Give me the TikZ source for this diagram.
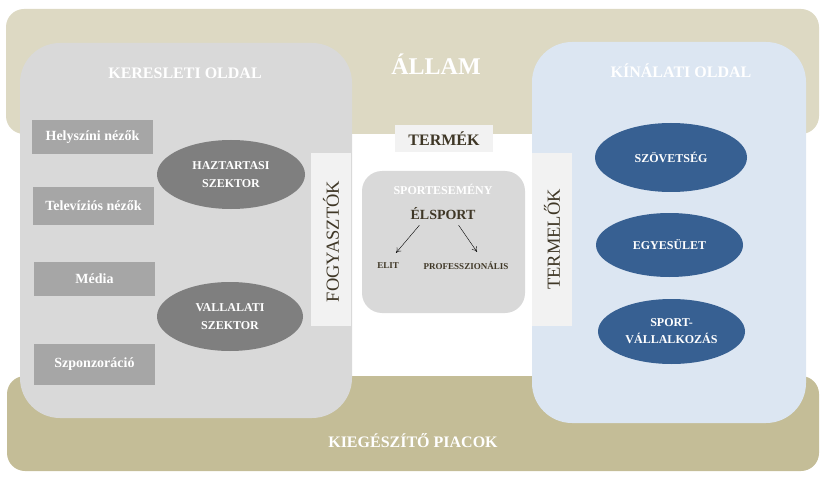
\documentclass[tikz,border=0pt]{standalone}
\usepackage{fontspec}
\setmainfont{Liberation Serif}
\usetikzlibrary{shapes.geometric,arrows.meta}
\definecolor{allamcol}{HTML}{DDD9C3}
\definecolor{piaccol}{HTML}{C4BD97}
\definecolor{keresletcol}{HTML}{D9D9D9}
\definecolor{kinalatcol}{HTML}{DCE6F2}
\definecolor{boxcol}{HTML}{A6A6A6}
\definecolor{sectorcol}{HTML}{7F7F7F}
\definecolor{orgcol}{HTML}{376092}
\definecolor{lightcol}{HTML}{F2F2F2}
\definecolor{darktxt}{HTML}{3F3726}
\tikzset{
  head/.style={text=white,font=\bfseries\fontsize{16}{19}\selectfont},
  graybox/.style={fill=boxcol,text=white,inner sep=0pt,minimum width=121pt,font=\bfseries\fontsize{14}{16}\selectfont},
  sector/.style={ellipse,fill=sectorcol,text=white,inner sep=0pt,align=center,font=\bfseries\fontsize{12}{18}\selectfont},
  org/.style={ellipse,fill=orgcol,text=white,inner sep=0pt,align=center,font=\bfseries\fontsize{12}{17}\selectfont},
  sidebox/.style={fill=lightcol,inner sep=0pt,minimum width=40pt,minimum height=173pt},
  sidetext/.style={text=darktxt,rotate=90,font=\fontsize{18.5}{20}\selectfont},
  small/.style={text=darktxt,inner sep=1pt,font=\bfseries\fontsize{9}{10}\selectfont}
}
\begin{document}
\begin{tikzpicture}[x=1pt,y=-1pt]
\useasboundingbox (0,0) rectangle (832,481);
\fill[allamcol,rounded corners=18pt] (6,9) rectangle (819,134);
\fill[piaccol,rounded corners=18pt] (7,376) rectangle (819,471);
\fill[keresletcol,rounded corners=40pt] (20,43) rectangle (352,418);
\fill[kinalatcol,rounded corners=40pt] (532,42) rectangle (806,423);
\fill[keresletcol,rounded corners=20pt] (362,171) rectangle (525,313);

\node[text=white,font=\bfseries\fontsize{24}{28}\selectfont] (allam) at (436,64) {ÁLLAM};
\node[head] (kereslet) at (185,73) {KERESLETI OLDAL};
\node[head] (kinalat) at (681,71) {KÍNÁLATI OLDAL};
\node[head] (piacok) at (413,441) {KIEGÉSZÍTŐ PIACOK};

\node[graybox,minimum height=34pt] (helyszini) at (92.5,137) {Helyszíni nézők};
\node[graybox,minimum height=37pt] (tv) at (93.5,206) {Televíziós nézők};
\node[graybox,minimum height=34pt] (media) at (94.5,279) {Média};
\node[graybox,minimum height=41pt] (szponzor) at (94.5,364.5) {Szponzoráció};

\node[sector,minimum width=148pt,minimum height=69pt] (haztartasi) at (231,174.5) {HAZTARTASI\\SZEKTOR};
\node[sector,minimum width=146pt,minimum height=69pt] (vallalati) at (230,316.5) {VALLALATI\\SZEKTOR};

\node[sidebox] (fogybox) at (331,239.5) {};
\node[sidetext] (fogy) at ([yshift=-2pt]fogybox.center) {FOGYASZTÓK};
\node[sidebox] (termbox) at (552,239.5) {};
\node[sidetext] (termelok) at (termbox.center) {TERMELŐK};

\node[fill=lightcol,text=darktxt,inner sep=0pt,minimum width=98pt,minimum height=27pt,font=\bfseries\fontsize{16}{18}\selectfont] (termek) at (444,138.5) {TERMÉK};
\node[text=white,font=\bfseries\fontsize{12}{14}\selectfont] (sportesemeny) at (443,189) {SPORTESEMÉNY};
\node[text=darktxt,inner sep=1pt,font=\bfseries\fontsize{14}{16}\selectfont] (elsport) at (443,214) {ÉLSPORT};
\node[small] (elit) at (388,266) {ELIT};
\node[small] (prof) at (466,266) {PROFESSZIONÁLIS};
\draw[-{To[length=5pt,width=6pt]}] ([xshift=10pt,yshift=-4pt]elsport.south west) -- ([xshift=8pt,yshift=9pt]elit.north);
\draw[-{To[length=5pt,width=6pt]}] ([xshift=-18pt,yshift=-4pt]elsport.south east) -- ([xshift=11pt,yshift=9pt]prof.north);

\node[org,minimum width=152pt,minimum height=69pt] (szovetseg) at (671,157.5) {SZÖVETSÉG};
\node[org,minimum width=147pt,minimum height=64pt] (egyesulet) at (669.5,245) {EGYESÜLET};
\node[org,minimum width=147pt,minimum height=65pt] (sportvall) at (671.5,331.5) {SPORT-\\VÁLLALKOZÁS};
\end{tikzpicture}
\end{document}
